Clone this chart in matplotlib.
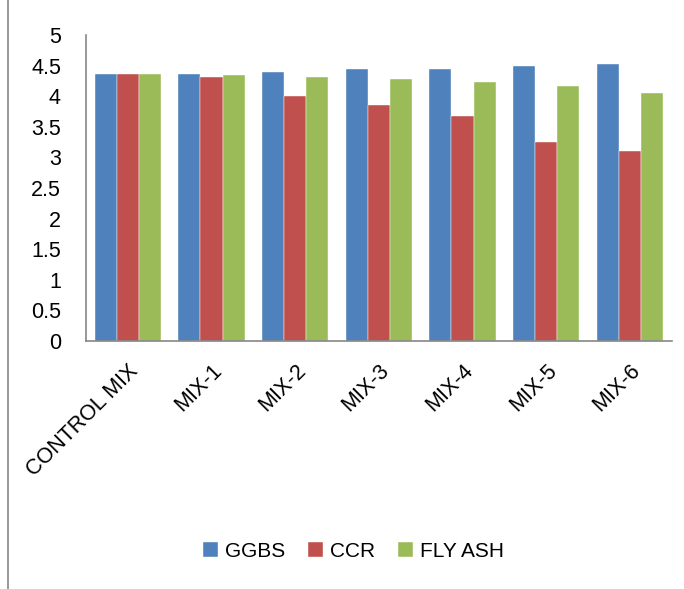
import numpy as np
import matplotlib.pyplot as plt
from matplotlib.lines import Line2D

# --- datos ---------------------------------------------------------------
mezclas = ["CONTROL MIX", "MIX-1", "MIX-2", "MIX-3", "MIX-4", "MIX-5", "MIX-6"]
ggbs    = [4.36, 4.37, 4.40, 4.44, 4.45, 4.50, 4.52]
ccr     = [4.36, 4.31, 4.01, 3.86, 3.67, 3.25, 3.11]
fly_ash = [4.36, 4.34, 4.31, 4.28, 4.24, 4.17, 4.06]

series = [("GGBS", ggbs, "#4F81BD"),
          ("CCR", ccr, "#C0504D"),
          ("FLY ASH", fly_ash, "#9BBB59")]

plt.rcParams["font.family"] = ["Liberation Sans", "DejaVu Sans"]

fig = plt.figure(figsize=(6.84, 5.89), dpi=100)
ax = fig.add_axes([0.1257, 0.421, 0.8563, 0.5196])

x = np.arange(len(mezclas))
ancho = 0.265
for i, (nombre, vals, color) in enumerate(series):
    ax.bar(x + (i - 1) * ancho, vals, ancho, color=color, label=nombre,
           edgecolor="white", linewidth=0.3)

ax.set_xlim(-0.5, len(mezclas) - 0.5)
ax.set_ylim(0, 5)
ax.set_yticks(np.arange(0, 5.01, 0.5))
ax.set_yticklabels(["0", "0.5", "1", "1.5", "2", "2.5", "3", "3.5", "4", "4.5", "5"])
ax.set_xticks(x)
ax.set_xticklabels(mezclas, rotation=45, ha="right", rotation_mode="anchor")
ax.tick_params(axis="both", length=0, labelsize=15.5)
ax.tick_params(axis="y", pad=18)
ax.tick_params(axis="x", pad=14)

for lado in ["top", "right"]:
    ax.spines[lado].set_visible(False)
for lado in ["left", "bottom"]:
    ax.spines[lado].set_color("#868686")
    ax.spines[lado].set_linewidth(1.2)

# borde exterior del grafico (solo se ve el izquierdo)
fig.add_artist(Line2D([8 / 684, 8 / 684], [0, 1], color="#868686", linewidth=1.2))

fig.legend(loc="center", bbox_to_anchor=(0.517, 0.0645), ncol=3, frameon=False,
           fontsize=15, handlelength=0.7, handleheight=0.7, columnspacing=1.1,
           handletextpad=0.35)

fig.savefig("out.png", dpi=100)
